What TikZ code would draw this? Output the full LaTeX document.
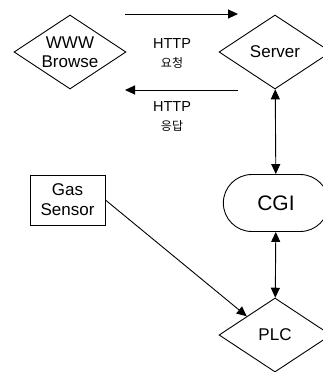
\documentclass[tikz,border=0pt]{standalone}
\usepackage{fontspec}
\setmainfont{Liberation Sans}
\newfontfamily\kr{Noto Sans CJK KR}
\usepackage{tikz}
\usetikzlibrary{arrows.meta, shapes.geometric, shapes.misc, positioning}
\tikzset{>={Triangle[length=10pt,width=9pt]}}

\begin{document}
\begin{tikzpicture}[x=1pt, y=-1pt, line width=.9pt,
	dia/.style={diamond, draw, aspect=1.54, inner sep=0pt, minimum width=112pt, minimum height=74pt, align=center, font=\fontsize{17}{19}\selectfont},
	lbl/.style={align=center, font=\fontsize{14.5}{19}\selectfont}]
	\useasboundingbox (0,0) rectangle (323,372);
	\clip (0,0) rectangle (323,372);
	\node[dia] (W) at (70,52) {WWW\\Browse};
	\node[dia] (S) at (275,52) {Server};
	\node[dia] (P) at (275,335) {PLC};
	\node[draw, rounded rectangle, minimum width=112pt, minimum height=57pt, font=\fontsize{21}{24}\selectfont] (C) at (276,203) {CGI};
	\node[draw, minimum width=75pt, minimum height=50pt, align=center, font=\fontsize{17}{20}\selectfont] (G) at (67.5,200) {Gas\\Sensor};
	\coordinate (r1) at (125,14); \coordinate (r2) at (238,14);
	\coordinate (s1) at (238,90); \coordinate (s2) at (125,90);
	\draw [->](r1) -- (r2);  \draw [->](s1) -- (s2);
	\node[lbl] (req) at (172,53) {HTTP\\{\kr\fontsize{12}{13}\selectfont 요청}};
	\node[lbl] (res) at (172,116) {HTTP\\{\kr\fontsize{12}{13}\selectfont 응답}};
	\draw [<->](S) -- (C);  \draw [<->](C) -- (P);
	\draw [->](G.east) -- (P.north west);
\end{tikzpicture}
\end{document}
